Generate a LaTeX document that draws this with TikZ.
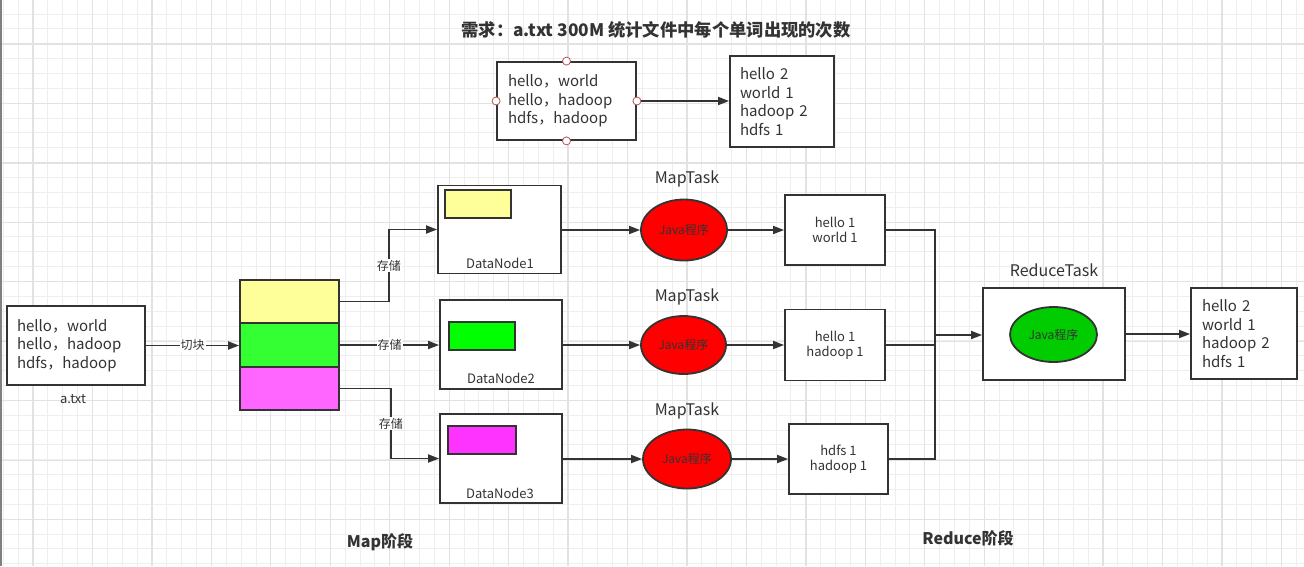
\documentclass[tikz,border=0pt]{standalone}
\usepackage{fontspec}
\setmainfont{Noto Sans CJK SC}
\usetikzlibrary{arrows.meta,shapes.geometric}
\definecolor{ink}{HTML}{333333}
\definecolor{gridminor}{HTML}{EEEEEE}
\definecolor{gridmajor}{HTML}{E2E2E2}
\definecolor{handred}{HTML}{B85450}
\definecolor{yel}{HTML}{FFFF99}
\definecolor{grn}{HTML}{33FF33}
\definecolor{pnk}{HTML}{FF66FF}
\definecolor{grn2}{HTML}{00FF00}
\definecolor{mag}{HTML}{FF33FF}
\definecolor{redg}{HTML}{FF0000}
\definecolor{redgreen}{HTML}{00CC00}
\begin{document}
\begin{tikzpicture}[x=1pt,y=-1pt,
  box/.style={draw=ink, line width=1.8pt, fill=white, inner sep=0pt},
  txtbox/.style={box, align=left, inner xsep=10pt, font=\fontsize{15}{18.5}\selectfont, text=ink},
  resbox/.style={box, align=center, font=\fontsize{13}{15}\selectfont, text=ink},
  colbox/.style={draw=ink, line width=1.8pt, inner sep=0pt},
  lbl/.style={text=ink, font=\fontsize{13}{15}\selectfont},
  tasklbl/.style={text=ink, font=\fontsize{16}{18}\selectfont},
  stagelbl/.style={text=ink, font=\fontsize{16}{18}\selectfont\bfseries},
  conn/.style={draw=ink, line width=1.8pt},
  arr/.style={conn, -{Triangle[length=11pt,width=8pt]}},
  elab/.style={fill=white, inner sep=1pt, font=\fontsize{12}{14}\selectfont, text=ink},
  handle/.style={circle, draw=handred, fill=white, line width=0.8pt, minimum size=8pt, inner sep=0pt},
  javaell/.style={ellipse, draw=ink, line width=1.8pt, inner sep=0pt, font=\fontsize{12}{14}\selectfont, text=ink}
]
\useasboundingbox (0,0) rectangle (1304,566);
% background grid
\fill[white] (0,0) rectangle (1304,566);
\foreach \i in {0,...,87} {\draw[gridminor, line width=1pt] (3.4+14.86*\i,0) -- (3.4+14.86*\i,566);}
\foreach \i in {0,...,37} {\draw[gridminor, line width=1pt] (0,14+14.86*\i) -- (1304,14+14.86*\i);}
\foreach \i in {0,...,21} {\draw[gridmajor, line width=1.3pt] (33+59.45*\i,0) -- (33+59.45*\i,566);}
\foreach \i in {0,...,8} {\draw[gridmajor, line width=1.3pt] (0,44+59.45*\i) -- (1304,44+59.45*\i);}
\draw[gray, line width=1.5pt] (0.75,0) -- (0.75,566);

% title
\node[text=ink, font=\fontsize{17.3}{20}\selectfont\bfseries] (title) at (656,30) {需求：a.txt 300M 统计文件中每个单词出现的次数};

% top example
\node[txtbox, minimum width=139pt, minimum height=78pt, text width=117pt, inner xsep=11pt] (tl) at (566.5,101) {hello，world\\hello，hadoop\\hdfs，hadoop};
\node[handle] (hn) at (tl.north) {};
\node[handle] (hs) at (tl.south) {};
\node[handle] (hw) at (tl.west) {};
\node[handle] (he) at (tl.east) {};
\node[txtbox, minimum width=104pt, minimum height=91pt, text width=84pt] (tr) at (782,101.5) {hello 2\\world 1\\hadoop 2\\hdfs 1};
\draw[arr] (he.east) -- (he -| tr.west);

% input file
\node[txtbox, minimum width=138pt, minimum height=79pt, text width=118pt] (atxt) at (76,345.5) {hello，world\\hello，hadoop\\hdfs，hadoop};
\node[lbl] (atxtlbl) at (73,399) {a.txt};

% blocks
\node[colbox, fill=yel, minimum width=99pt, minimum height=43pt] (yb) at (289.5,301.5) {};
\node[colbox, fill=grn, minimum width=99pt, minimum height=44pt] (gb) at (289.5,345) {};
\node[colbox, fill=pnk, minimum width=99pt, minimum height=43pt] (pb) at (289.5,388.5) {};
\draw[arr] (atxt.east) -- (atxt -| gb.west) node[elab, midway] {切块};

% datanodes
\node[box, minimum width=123pt, minimum height=88pt] (dn1) at (499.5,229.5) {};
\node[colbox, fill=yel, minimum width=66pt, minimum height=28pt] (dn1b) at (478,204) {};
\node[lbl] (dn1l) at (500,263) {DataNode1};
\node[box, minimum width=122pt, minimum height=89pt] (dn2) at (501,344.5) {};
\node[colbox, fill=grn2, minimum width=66pt, minimum height=28pt] (dn2b) at (482,336) {};
\node[lbl] (dn2l) at (501,378) {DataNode2};
\node[box, minimum width=122pt, minimum height=89pt] (dn3) at (501,458.5) {};
\node[colbox, fill=mag, minimum width=68pt, minimum height=28pt] (dn3b) at (482,440) {};
\node[lbl] (dn3l) at (500,493) {DataNode3};

\draw[arr] (yb.east) -- ++(49,0) |- (dn1.west) node[elab, pos=0.25] {存储};
\draw[arr] (gb.east) -- (gb -| dn2.west) node[elab, midway] {存储};
\draw[arr] (pb.east) -- ++(51,0) |- (dn3.west) node[elab, pos=0.25] {存储};

% map tasks
\node[tasklbl] (mt1) at (687,179) {MapTask};
\node[tasklbl] (mt2) at (687,297) {MapTask};
\node[tasklbl] (mt3) at (687,411) {MapTask};
\node[javaell, fill=redg, minimum width=86pt, minimum height=61pt] (e1) at (684,230) {Java程序};
\node[javaell, fill=redg, minimum width=85pt, minimum height=58pt] (e2) at (683.5,345) {Java程序};
\node[javaell, fill=redg, minimum width=88pt, minimum height=59pt] (e3) at (687,459) {Java程序};
\draw[arr] (e1 -| dn1.east) -- (e1.west);
\draw[arr] (e2 -| dn2.east) -- (e2.west);
\draw[arr] (e3 -| dn3.east) -- (e3.west);

% map results
\node[resbox, minimum width=100pt, minimum height=70pt] (r1) at (835,230) {hello 1\\world 1};
\node[resbox, minimum width=100pt, minimum height=71pt] (r2) at (835,345) {hello 1\\hadoop 1};
\node[resbox, minimum width=99pt, minimum height=70pt] (r3) at (838.5,459) {hdfs 1\\hadoop 1};
\draw[arr] (e1.east) -- (e1 -| r1.west);
\draw[arr] (e2.east) -- (e2 -| r2.west);
\draw[arr] (e3.east) -- (e3 -| r3.west);

% reduce
\node[tasklbl] (rt) at (1054,270) {ReduceTask};
\node[box, minimum width=142pt, minimum height=92pt] (rbox) at (1054,334) {};
\node[javaell, fill=redgreen, minimum width=87pt, minimum height=55pt] (e4) at (1053.5,334.5) {Java程序};
\coordinate (m) at (935,335);
\draw[conn] (r1.east) -| (m);
\draw[conn] (r2.east) -| (m);
\draw[conn] (r3.east) -| (m);
\draw[arr] (m) -- (m -| rbox.west);

\node[txtbox, minimum width=104pt, minimum height=91pt, text width=84pt, inner xsep=11pt] (fin) at (1244,333.5) {hello 2\\world 1\\hadoop 2\\hdfs 1};
\draw[arr] (rbox.east) -- (rbox.east -| fin.west);

% stage labels
\node[stagelbl] (mapst) at (380,542) {Map阶段};
\node[stagelbl] (redst) at (968,538) {Reduce阶段};
\end{tikzpicture}
\end{document}
